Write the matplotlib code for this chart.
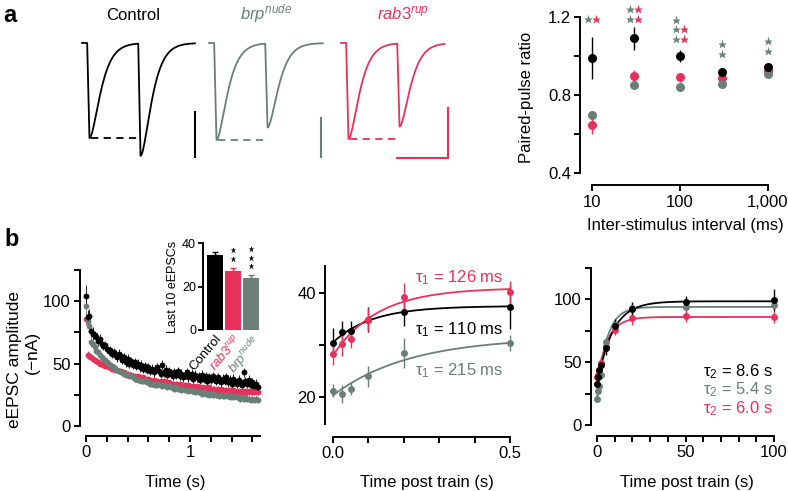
import numpy as np
import matplotlib
matplotlib.use("Agg")
import matplotlib.pyplot as plt

# ---------------- data ----------------
# panel a, example traces (amplitudes normalised to the first EPSC)
trace_amp1 = [0.99, 1.01, 1.00]          # Control, brp, rab3
trace_amp2 = [1.17, 0.875, 0.865]
trace_isi_ms = 20
trace_tau_ms = 2.7

# panel a, paired-pulse ratio
ppr_isi = [10, 30, 100, 300, 1000]
ppr_ctrl = [0.99, 1.09, 1.00, 0.92, 0.945]
ppr_ctrl_err = [0.11, 0.06, 0.03, 0.015, 0.012]
ppr_rab3 = [0.645, 0.90, 0.89, 0.885, 0.925]
ppr_rab3_err = [0.045, 0.03, 0.025, 0.015, 0.01]
ppr_brp = [0.70, 0.85, 0.843, 0.856, 0.91]
ppr_brp_err = [0.02, 0.015, 0.012, 0.012, 0.01]
stars_brp = [1, 2, 3, 2, 2]
stars_rab3 = [1, 2, 2, 0, 0]

# panel b, 100 stimuli at 60 Hz
train_hz = 60
train_ctrl = [104, 87, 88, 76, 74, 73, 71, 68, 70, 66, 64, 65, 62, 60, 61, 58, 59, 57, 55, 58,
              56, 53, 55, 51, 54, 50, 52, 49, 51, 48, 50, 47, 49, 46, 48, 45, 47, 44, 46, 43,
              45, 47, 44, 42, 49, 43, 45, 41, 44, 42, 40, 43, 41, 44, 40, 42, 39, 41, 43, 39,
              40, 42, 38, 41, 39, 40, 37, 41, 38, 40, 36, 39, 37, 40, 38, 36, 39, 37, 35, 38,
              36, 39, 35, 37, 34, 38, 36, 34, 37, 35, 33, 43, 36, 34, 37, 33, 35, 32, 34, 31]
train_rab3 = [86, 57, 56, 55, 54, 53, 52, 51, 50, 50, 49, 48, 48, 47, 47, 46, 46, 45, 45, 44,
              44, 43, 43, 42, 42, 41, 41, 40, 40, 39, 40, 39, 38, 39, 38, 37, 38, 37, 36, 37,
              36, 36, 35, 36, 35, 36, 35, 34, 35, 34, 34, 33, 34, 33, 34, 33, 32, 33, 32, 33,
              32, 31, 32, 31, 32, 31, 30, 31, 30, 31, 30, 31, 30, 29, 30, 29, 30, 29, 30, 29,
              28, 29, 28, 29, 28, 29, 28, 27, 28, 27, 28, 27, 28, 27, 28, 27, 28, 27, 28, 27]
train_brp = [96, 84, 80, 67, 66, 63, 60, 59, 57, 55, 54, 53, 51, 50, 49, 48, 47, 46, 45, 44,
             43, 43, 42, 41, 41, 40, 40, 39, 38, 38, 37, 37, 36, 36, 36, 35, 35, 34, 34, 34,
             33, 33, 34, 33, 32, 33, 32, 31, 32, 31, 31, 30, 31, 30, 30, 29, 30, 29, 29, 28,
             29, 28, 28, 27, 28, 27, 27, 26, 27, 26, 26, 25, 26, 25, 26, 25, 25, 24, 25, 24,
             24, 25, 24, 23, 24, 23, 24, 23, 23, 22, 23, 22, 23, 22, 22, 21, 22, 21, 22, 21]
train_ctrl_err = [9, 6, 6, 5, 5] + [3.5] * 95
train_rab3_err = [5, 3, 3] + [2] * 97
train_brp_err = [8, 5, 5, 4] + [2.5] * 96

# inset, mean of last 10 eEPSCs
last10_mean = [34.5, 27.3, 24.0]
last10_err = [1.3, 1.3, 1.2]
last10_stars = [0, 2, 3]

# fast recovery
fast_t = [0, 0.025, 0.05, 0.1, 0.2, 0.5]
fast_ctrl = [30.4, 32.5, 32.6, 34.9, 36.3, 37.3]
fast_ctrl_err = [2.8, 2.2, 2.0, 2.4, 2.6, 4.2]
fast_rab3 = [28.2, 30.1, 31.2, 34.9, 39.2, 40.2]
fast_rab3_err = [2.0, 2.2, 1.8, 2.2, 2.7, 2.2]
fast_brp = [21.2, 20.6, 21.6, 24.0, 28.5, 30.4]
fast_brp_err = [1.3, 1.8, 1.2, 2.0, 2.9, 1.6]
# (start, plateau, tau in s)
fast_fit_ctrl = (30.5, 37.5, 0.110)
fast_fit_rab3 = (28.0, 41.0, 0.126)
fast_fit_brp = (20.3, 31.5, 0.215)

# slow recovery
slow_t = [0, 0.5, 1, 2, 5, 10, 20, 50, 100]
slow_ctrl = [33, 38, 44, 48, 61, 79, 92, 98, 99.5]
slow_ctrl_err = [4, 4, 4, 4, 5, 5, 6, 5, 9]
slow_rab3 = [38, 40, 44, 49, 63, 76, 85, 87, 86]
slow_rab3_err = [4, 4, 4, 4, 4, 4, 5, 5, 5]
slow_brp = [21, 27, 31, 40, 66, 80, 93, 94, 95.5]
slow_brp_err = [3, 3, 3, 3, 4, 4, 4, 3, 3]
slow_fit_ctrl = (31.0, 98.5, 8.6)
slow_fit_rab3 = (35.0, 86.0, 6.0)
slow_fit_brp = (22.0, 94.0, 5.4)

# ---------------- style ----------------
BLACK = "black"
RED = "#e6325b"
GREY = "#6b7f79"

plt.rcParams["font.family"] = ["Liberation Sans", "DejaVu Sans"]
plt.rcParams["font.size"] = 12
plt.rcParams["mathtext.fontset"] = "custom"
plt.rcParams["mathtext.rm"] = "Liberation Sans"
plt.rcParams["mathtext.it"] = "Liberation Sans:italic"
plt.rcParams["axes.linewidth"] = 1.4

W, H = 788, 491
fig = plt.figure(figsize=(W / 100, H / 100), dpi=100)


def box(x0, y0, x1, y1):
    return [x0 / W, 1 - y1 / H, (x1 - x0) / W, (y1 - y0) / H]


def ftext(x, y, s, **kw):
    fig.text(x / W, 1 - y / H, s, **kw)


def style(ax):
    ax.spines["top"].set_visible(False)
    ax.spines["right"].set_visible(False)
    ax.tick_params(direction="out", length=4.5, width=1.4, pad=2, labelsize=12)


def recover(t, p):
    y0, plat, tau = p
    return plat - (plat - y0) * np.exp(-np.asarray(t) / tau)


# ---------------- panel a traces ----------------
ftext(10, 15, "a", fontsize=17, fontweight="bold", ha="center", va="center")
ftext(133, 16, "Control", ha="center", va="center", color=BLACK)
ftext(266, 14, r"$\mathit{brp}^{\mathit{nude}}$", ha="center", va="center", color=GREY)
ftext(403, 14, r"$\mathit{rab3}^{\mathit{rup}}$", ha="center", va="center", color=RED)

trace_left = [79.5, 206.5, 338.5]
trace_end = [45.2, 45.5, 41.5]
trace_col = [BLACK, GREY, RED]
bar_top = [-0.72, -0.78, -0.68]
bar_bot = [-1.19, -1.19, -1.20]
bar_x = [45.2, 45.0, 42.8]
stim = [3.0, 3.0 + trace_isi_ms]
tp = 0.9
for i in range(3):
    ax = fig.add_axes(box(trace_left[i], 33, trace_left[i] + 120, 170))
    ax.set_xlim(0, 47)
    ax.set_ylim(-1.323, 0.104)
    ax.axis("off")
    t = np.linspace(1.0, trace_end[i], 3000)
    y = np.zeros_like(t)
    for s, a in zip(stim, [trace_amp1[i], trace_amp2[i]]):
        rise = (t >= s) & (t < s + tp)
        y[rise] -= a * (t[rise] - s) / tp
        dec = t >= s + tp
        x = (t[dec] - s - tp) / trace_tau_ms
        y[dec] -= a * (1 + x) * np.exp(-x)
    ax.plot(t, y, color=trace_col[i], lw=1.3)
    ax.plot([4.5, 23.0], [-trace_amp1[i]] * 2, color=trace_col[i], lw=1.3,
            ls=(0, (4, 3)))
    ax.plot([bar_x[i]] * 2, [bar_top[i], bar_bot[i]], color=trace_col[i], lw=1.5)
    if i == 2:
        ax.plot([bar_x[i] - trace_isi_ms, bar_x[i]], [bar_bot[i]] * 2,
                color=trace_col[i], lw=1.5)

# ---------------- panel a PPR ----------------
ax = fig.add_axes(box(580, 10, 776, 173))
style(ax)
ax.set_xscale("log")
ax.set_xlim(7.3, 1234)
ax.set_ylim(0.4, 1.236)
for vals, err, col in [(ppr_rab3, ppr_rab3_err, RED), (ppr_brp, ppr_brp_err, GREY),
                       (ppr_ctrl, ppr_ctrl_err, BLACK)]:
    ax.errorbar(ppr_isi, vals, yerr=err, fmt="o", ms=6.5, color=col, mec="none",
                elinewidth=1.0, capsize=0, clip_on=False)
ax.spines["bottom"].set_bounds(10, 1000)
ax.spines["bottom"].set_position(("outward", 9))
ax.spines["left"].set_bounds(0.4, 1.2)
ax.set_xticks(ppr_isi[::2])
ax.set_xticklabels(["10", "100", "1,000"])
ax.xaxis.set_minor_locator(matplotlib.ticker.NullLocator())
ax.set_yticks([0.4, 0.6, 0.8, 1.0, 1.2])
ax.set_yticklabels(["0.4", "", "0.8", "", "1.2"])
star_bottom = [1.19, 1.19, 1.087, 1.01, 1.026]
shift = 10 ** (4 / 87.5)
for k, xv in enumerate(ppr_isi):
    both = stars_rab3[k] > 0
    for j in range(stars_brp[k]):
        ax.plot(xv / shift if both else xv, star_bottom[k] + 0.05 * j, marker="*",
                ms=6.5, color=GREY, mec="none", clip_on=False)
    for j in range(stars_rab3[k]):
        ax.plot(xv * shift, star_bottom[k] + 0.05 * j, marker="*", ms=6.5, color=RED,
                mec="none", clip_on=False)
ftext(527, 97, "Paired-pulse ratio", rotation=90, ha="center", va="center")
ftext(685, 225, "Inter-stimulus interval (ms)", ha="center", va="center")

# ---------------- panel b train ----------------
ftext(12, 240, "b", fontsize=17, fontweight="bold", ha="center", va="center")
ax = fig.add_axes(box(80, 270, 262, 426))
style(ax)
tt = np.arange(len(train_ctrl)) / train_hz
for vals, err, col in [(train_rab3, train_rab3_err, RED), (train_brp, train_brp_err, GREY),
                       (train_ctrl, train_ctrl_err, BLACK)]:
    ax.errorbar(tt, vals, yerr=err, fmt="o", ms=4.2, color=col, mec="none",
                ecolor=col, elinewidth=0.6, capsize=0)
ax.set_xlim(-0.058, 1.692)
ax.set_ylim(0, 125)
ax.spines["bottom"].set_bounds(0, 1.67)
ax.spines["bottom"].set_position(("outward", 7))
ax.set_xticks([0, 0.2, 0.4, 0.6, 0.8, 1.0, 1.2, 1.4, 1.6])
ax.set_xticklabels(["0", "", "", "", "", "1", "", "", ""])
ax.set_yticks([0, 25, 50, 75, 100, 125])
ax.set_yticklabels(["0", "", "50", "", "100", ""])
ftext(15, 360, "eEPSC amplitude", rotation=90, ha="center", va="center", fontsize=12.5)
ftext(32, 352, "(\u2212nA)", rotation=90, ha="center", va="center", fontsize=12.5)
ftext(175, 482, "Time (s)", ha="center", va="center")

# inset
ax = fig.add_axes(box(203, 243, 262, 330))
ax.spines["top"].set_visible(False)
ax.spines["right"].set_visible(False)
ax.spines["bottom"].set_visible(False)
ax.tick_params(axis="y", direction="out", length=3.5, width=1.3, pad=1.5, labelsize=9)
ax.tick_params(axis="x", length=0, pad=2)
xb = np.arange(3)
bar_cols = [BLACK, RED, GREY]
ax.bar(xb, last10_mean, width=0.92, color=bar_cols)
for k in range(3):
    ax.errorbar(xb[k], last10_mean[k], yerr=[[0], [last10_err[k]]], color=bar_cols[k],
                capsize=2.5, elinewidth=1, capthick=1)
    for j in range(last10_stars[k]):
        ax.plot(xb[k], last10_mean[k] + last10_err[k] + 4 + 4 * j, marker="*", ms=4.5,
                color=BLACK, mec="none", clip_on=False)
ax.set_xlim(-0.667, 2.61)
ax.set_ylim(0, 40)
ax.set_yticks([0, 20, 40])
ax.set_xticks(xb)
ax.set_xticklabels(["Control", r"$\mathit{rab3}^{\mathit{rup}}$", r"$\mathit{brp}^{\mathit{nude}}$"],
                   rotation=50, ha="right", va="top", rotation_mode="anchor", fontsize=9.5)
for lab, col in zip(ax.get_xticklabels(), bar_cols):
    lab.set_color(col)
ax.set_ylabel("Last 10 eEPSCs", fontsize=9, labelpad=2)

# ---------------- panel b fast recovery ----------------
ax = fig.add_axes(box(325, 266, 512, 424))
style(ax)
tf = np.linspace(0, 0.5, 200)
for vals, err, fit, col in [(fast_ctrl, fast_ctrl_err, fast_fit_ctrl, BLACK),
                            (fast_rab3, fast_rab3_err, fast_fit_rab3, RED),
                            (fast_brp, fast_brp_err, fast_fit_brp, GREY)]:
    ax.plot(tf, recover(tf, fit), color=col, lw=1.3)
    ax.errorbar(fast_t, vals, yerr=err, fmt="o", ms=5, color=col, mec="none",
                elinewidth=1, capsize=0, clip_on=False)
ax.set_xlim(-0.0226, 0.5056)
ax.set_ylim(14.8, 45.2)
ax.spines["bottom"].set_bounds(0, 0.5)
ax.spines["bottom"].set_position(("outward", 9))
ax.set_xticks([0, 0.1, 0.2, 0.3, 0.4, 0.5])
ax.set_xticklabels(["0.0", "", "", "", "", "0.5"])
ax.set_yticks([20, 30, 40])
ax.set_yticklabels(["20", "", "40"])
ax.text(0.48, 42.9, r"$\mathrm{\tau_1}$ = 126 ms", color=RED, ha="right", va="center")
ax.text(0.48, 32.9, r"$\mathrm{\tau_1}$ = 110 ms", color=BLACK, ha="right", va="center")
ax.text(0.48, 25.0, r"$\mathrm{\tau_1}$ = 215 ms", color=GREY, ha="right", va="center")
ftext(427, 482, "Time post train (s)", ha="center", va="center")

# ---------------- panel b slow recovery ----------------
ax = fig.add_axes(box(591, 268, 776, 425))
style(ax)
ts = np.linspace(0, 100, 500)
for vals, err, fit, col in [(slow_rab3, slow_rab3_err, slow_fit_rab3, RED),
                            (slow_brp, slow_brp_err, slow_fit_brp, GREY),
                            (slow_ctrl, slow_ctrl_err, slow_fit_ctrl, BLACK)]:
    ax.plot(ts, recover(ts, fit), color=col, lw=1.3)
    ax.errorbar(slow_t, vals, yerr=err, fmt="o", ms=5, color=col, mec="none",
                elinewidth=1, capsize=0, clip_on=False)
ax.set_xlim(-3.4, 101.1)
ax.set_ylim(0, 125)
ax.spines["bottom"].set_bounds(0, 100)
ax.spines["bottom"].set_position(("outward", 8))
ax.set_xticks(np.arange(0, 101, 10))
ax.set_xticklabels(["0", "", "", "", "", "50", "", "", "", "", "100"])
ax.set_yticks([0, 25, 50, 75, 100, 125])
ax.set_yticklabels(["0", "", "50", "", "100", ""])
ax.text(99.4, 42.2, r"$\mathrm{\tau_2}$ = 8.6 s", color=BLACK, ha="right", va="center")
ax.text(99.4, 27.9, r"$\mathrm{\tau_2}$ = 5.4 s", color=GREY, ha="right", va="center")
ax.text(99.4, 12.7, r"$\mathrm{\tau_2}$ = 6.0 s", color=RED, ha="right", va="center")
ftext(687, 482, "Time post train (s)", ha="center", va="center")

fig.savefig("out.png", dpi=100)
